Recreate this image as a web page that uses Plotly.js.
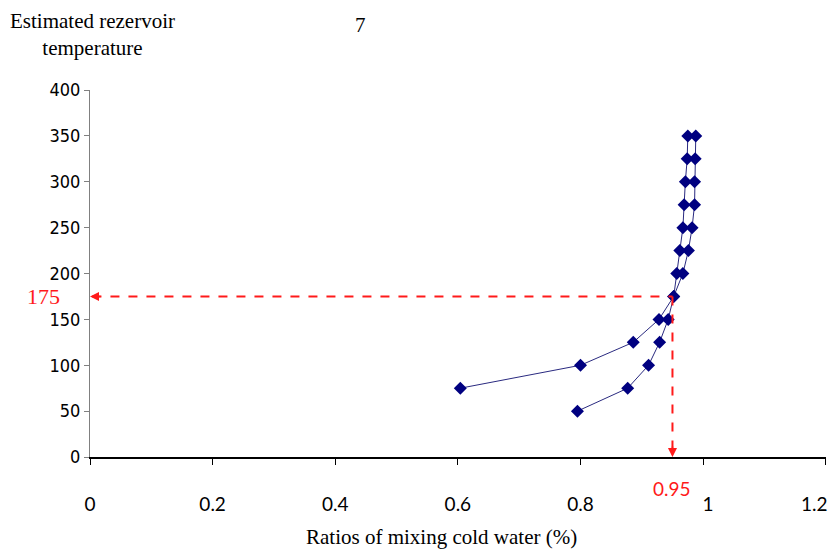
<!DOCTYPE html>
<html><head><meta charset="utf-8">
<script src="https://cdn.plot.ly/plotly-3.0.1.min.js"></script>
<style>html,body{margin:0;padding:0;background:#fff}</style>
</head><body>
<div id="chart" style="width:838px;height:556px"></div>
<script>
// Series A (upper-left branch, ends at 0.6 / 75)
const tempA  = [350, 325, 300, 275, 250, 225, 200, 175, 150, 125, 100, 75];
const ratioA = [0.975, 0.974, 0.971, 0.969, 0.967, 0.962, 0.957, 0.952, 0.928, 0.886, 0.800, 0.604];
// Series B (lower branch, ends at 0.8 / 50)
const tempB  = [350, 325, 300, 275, 250, 225, 200, 175, 150, 125, 100, 75, 50];
const ratioB = [0.988, 0.987, 0.986, 0.986, 0.982, 0.976, 0.967, 0.952, 0.943, 0.929, 0.911, 0.877, 0.795];
// Reading marked on the chart
const markRatio = 0.95;
const markTemp = 175;
const xTicks = [0, 0.2, 0.4, 0.6, 0.8, 1, 1.2];
const xTickText = ['0', '0.2', '0.4', '0.6', '0.8', '1', '1.2'];
const yTicks = [0, 50, 100, 150, 200, 250, 300, 350, 400];

const navy = '#000080';
const red = '#ff1a1a';
const serif = 'Liberation Serif, Times New Roman, serif';
const narrow = 'Liberation Sans Narrow, Arial Narrow, DejaVu Sans Condensed, sans-serif';
const tickFam = 'Lato, Carlito, Open Sans, sans-serif';

const last = xTicks.length - 1;
// the last label sits against the right edge, so it is drawn as an annotation nudged left
const axisTickText = xTickText.map((t, i) => (i === last ? '' : (i === last - 1 ? '\u00a0\u00a0' + t : t)));

const traces = [
  {x: ratioA, y: tempA, mode: 'lines+markers', type: 'scatter',
   line: {color: '#2a2a80', width: 1}, marker: {symbol: 'diamond', size: 10, color: navy}, hoverinfo: 'skip'},
  {x: ratioB, y: tempB, mode: 'lines+markers', type: 'scatter',
   line: {color: '#2a2a80', width: 1}, marker: {symbol: 'diamond', size: 10, color: navy}, hoverinfo: 'skip'}
];

const layout = {
  width: 838, height: 556,
  margin: {l: 90, r: 12, t: 90, b: 99},
  paper_bgcolor: '#fff', plot_bgcolor: '#fff',
  showlegend: false,
  xaxis: {
    range: [0, 1.2004], tickvals: xTicks, ticktext: axisTickText,
    showgrid: false, zeroline: false, showline: true, linecolor: '#000', linewidth: 1.5,
    ticks: 'outside', ticklen: 6, tickcolor: '#000',
    ticklabelstandoff: 24,
    tickfont: {family: tickFam, size: 19, color: '#000'}
  },
  yaxis: {
    range: [0, 400], tickvals: yTicks,
    showgrid: false, zeroline: false, showline: true, linecolor: '#808080', linewidth: 1,
    ticks: 'outside', ticklen: 5, tickcolor: '#808080',
    tickfont: {family: narrow, size: 18, color: '#000'}
  },
  shapes: [
    {type: 'line', xref: 'x', yref: 'y', x0: 0.004, x1: markRatio, y0: markTemp, y1: markTemp,
     line: {color: red, width: 2, dash: 'dash'}},
    {type: 'line', xref: 'x', yref: 'y', x0: markRatio, x1: markRatio, y0: markTemp, y1: 3,
     line: {color: red, width: 2, dash: 'dash'}}
  ],
  annotations: [
    {x: 0, y: markTemp, xref: 'x', yref: 'y', ax: 12, ay: 0, axref: 'pixel', ayref: 'pixel',
     showarrow: true, arrowhead: 2, arrowsize: 1.2, arrowwidth: 1.5, arrowcolor: red, text: ''},
    {x: markRatio, y: 0, xref: 'x', yref: 'y', ax: 0, ay: -12,
     showarrow: true, arrowhead: 2, arrowsize: 1.2, arrowwidth: 1.5, arrowcolor: red, text: ''},
    {x: 0, y: markTemp, xref: 'x', yref: 'y', xanchor: 'right', yanchor: 'middle', xshift: -28,
     showarrow: false, text: String(markTemp), font: {family: serif, size: 22, color: red}},
    {x: markRatio, y: 0, xref: 'x', yref: 'y', xanchor: 'center', yanchor: 'top', yshift: -18,
     showarrow: false, text: String(markRatio), font: {family: tickFam, size: 19, color: red}},
    {x: xTicks[last], y: 0, xref: 'x', yref: 'y', xanchor: 'right', yanchor: 'middle', xshift: 4, yshift: -46,
     showarrow: false, text: xTickText[last], font: {family: tickFam, size: 19, color: '#000'}},
    {x: 0.004, y: 1.15, xref: 'paper', yref: 'paper', xanchor: 'center', yanchor: 'middle',
     showarrow: false, align: 'center', text: 'Estimated rezervoir<br>temperature',
     font: {family: serif, size: 21, color: '#000'}},
    {x: 0.368, y: 1.177, xref: 'paper', yref: 'paper', xanchor: 'center', yanchor: 'middle',
     showarrow: false, text: '7', font: {family: serif, size: 21, color: '#000'}},
    {x: 0.477, y: -0.218, xref: 'paper', yref: 'paper', xanchor: 'center', yanchor: 'middle',
     showarrow: false, text: 'Ratios of mixing cold water (%)', font: {family: serif, size: 21, color: '#000'}}
  ]
};

Plotly.newPlot('chart', traces, layout, {displayModeBar: false, staticPlot: true});
</script>
</body></html>
